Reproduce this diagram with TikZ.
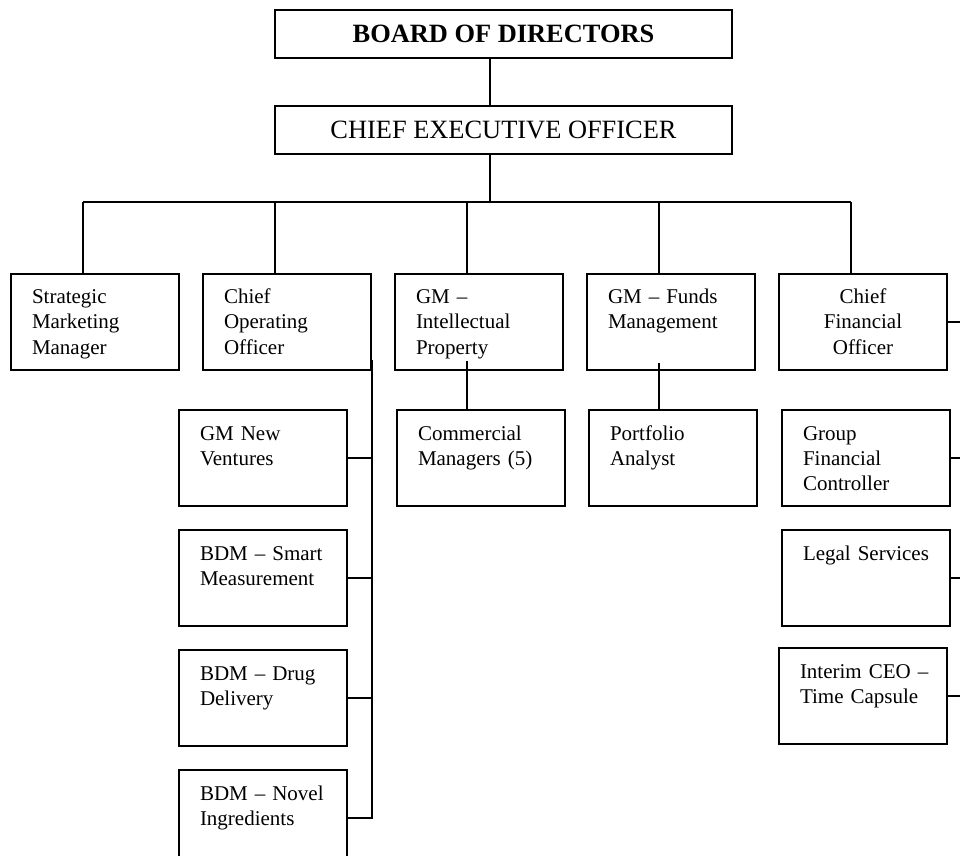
\documentclass[tikz,border=0pt]{standalone}
\usepackage{fontspec}
\setmainfont{Liberation Serif}
\usetikzlibrary{positioning,calc}
\tikzset{post/.style={draw,line width=1pt,anchor=north west,text width=67pt,align=left,inner xsep=8.5pt,inner ysep=0pt,text height=15pt,text depth=33pt,font=\fontsize{10.5}{12.5}\selectfont}, head/.style={draw,line width=1pt,anchor=north west,minimum width=228.5pt,minimum height=24pt,inner sep=0pt,font=\fontsize{13.2}{15}\selectfont},link/.style={line width=1pt}}
\begin{document}
\begin{tikzpicture}[x=0.5pt,y=-0.5pt]
\useasboundingbox (0,0) rectangle (960,856);
\node[head] (board) at (274,9){\textbf{BOARD OF DIRECTORS}};\node[head] (ceo) at (274,105){CHIEF EXECUTIVE OFFICER};
\node[post] (smm) at (10,273){\hspace*{2pt}Strategic\\\hspace*{2pt}Marketing\\\hspace*{2pt}Manager};\node[post] (coo) at (202,273){\hspace*{2pt}Chief\\\hspace*{2pt}Operating\\\hspace*{2pt}Officer};
\node[post] (ip) at (394,273){\hspace*{2pt}GM –\\\hspace*{2pt}Intellectual\\\hspace*{2pt}Property};\node[post] (fm) at (586,273){\hspace*{2pt}GM – Funds\\\hspace*{2pt}Management};
\node[post,align=center] (cfo) at (778,273){Chief\\Financial\\Officer};
\node[post] (nv) at (178,409){\hspace*{2pt}GM New\\\hspace*{2pt}Ventures};\node[post] (sm) at (178,529){\hspace*{2pt}BDM – Smart\\\hspace*{2pt}Measurement};
\node[post] (dd) at (178,649){\hspace*{2pt}BDM – Drug\\\hspace*{2pt}Delivery};\node[post] (ni) at (178,769){\hspace*{2pt}BDM – Novel\\\hspace*{2pt}Ingredients};
\node[post] (cm) at (396,409){\hspace*{2pt}Commercial\\\hspace*{2pt}Managers (5)};\node[post] (pa) at (588,409){\hspace*{2pt}Portfolio\\\hspace*{2pt}Analyst};
\node[post] (gfc) at (781,409){\hspace*{2pt}Group\\\hspace*{2pt}Financial\\\hspace*{2pt}Controller};\node[post] (ls) at (781,529){\hspace*{2pt}Legal Services};
\node[post] (ic) at (778,647){\hspace*{2pt}Interim CEO –\\\hspace*{2pt}Time Capsule};
\coordinate (bus) at (490,202);\coordinate (rail) at (960,0);
\draw[link](board.south -| bus)--(ceo.north -| bus);\draw[link](ceo.south -| bus)--(bus);
\draw[link]([xshift=-6pt]smm.north |- bus)--([xshift=-6pt]cfo.north |- bus);
\foreach \b in {smm,coo,ip,fm,cfo} \draw[link]([xshift=-6pt]\b.north)--([xshift=-6pt]\b.north |- bus);
\draw[link]([yshift=5.5pt]coo.south east)|-(ni.east);
\foreach \b in {nv,sm,dd} \draw[link](\b.east)--(\b.east -| coo.east);
\draw[link]([xshift=-6pt,yshift=5pt]ip.south)--([xshift=-6pt]ip.south |- cm.north);
\draw[link]([xshift=-6pt,yshift=4pt]fm.south)--([xshift=-6pt]fm.south |- pa.north);
\foreach \b in {cfo,gfc,ls,ic} \draw[link](\b.east)--(\b.east -| rail);
\end{tikzpicture}
\end{document}
